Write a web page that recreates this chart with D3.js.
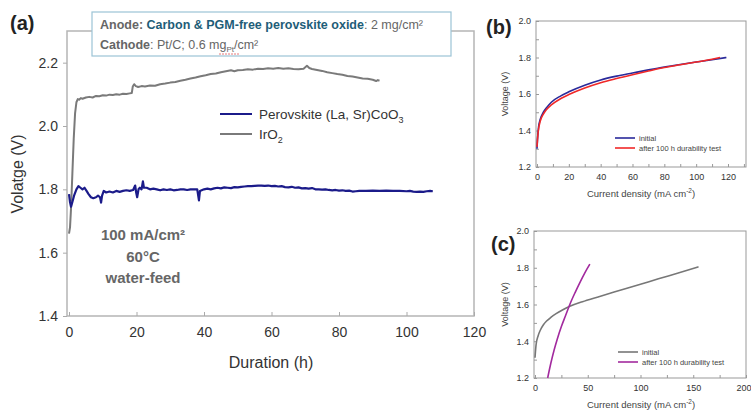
<!DOCTYPE html>
<html>
<head>
<meta charset="utf-8">
<script src="https://cdn.jsdelivr.net/npm/d3@7"></script>
<style>
	body { margin: 0; background: #fff; }
	svg { display: block; font-family: "Liberation Sans", Arial, sans-serif; }
	.tick text { fill: #333; }
</style>
</head>
<body>
<div id="chart"></div>
<script>
// (a) durability at 100 mA/cm2, [hours, volts]
const perovskiteSeries = [
	[0,1.785],[0.3,1.76],[0.6,1.745],[1,1.76],[1.5,1.78],[2.2,1.8],[2.8,1.81],[3.4,1.805],[4,1.8],[4.6,1.805],
	[5.2,1.795],[5.8,1.785],[6.5,1.775],[7.2,1.772],[8,1.775],[8.6,1.78],[9.2,1.775],[9.5,1.758],[9.8,1.78],[10.3,1.795],
	[11,1.79],[12,1.793],[13,1.79],[14,1.795],[15,1.792],[16,1.795],[17,1.797],[18,1.795],[19,1.798],[19.6,1.812],
	[19.9,1.79],[20.2,1.775],[20.6,1.8],[21,1.805],[21.5,1.8],[21.9,1.825],[22.2,1.805],[23,1.805],[24,1.8],[25,1.802],
	[26,1.8],[27,1.797],[28,1.8],[29,1.798],[30,1.8],[31,1.797],[32,1.798],[33,1.8],[34,1.8],[35,1.798],
	[36,1.8],[37,1.8],[38,1.8],[38.5,1.765],[38.8,1.795],[40,1.8],[41,1.802],[42,1.8],[43,1.803],[44,1.805],
	[45,1.803],[46,1.806],[47,1.805],[48,1.804],[49,1.807],[50,1.806],[51,1.808],[52,1.809],[53,1.81],[54,1.81],
	[55,1.811],[56,1.812],[57,1.812],[58,1.811],[59,1.812],[60,1.81],[61,1.811],[62,1.809],[63,1.81],[64,1.807],
	[65,1.806],[66,1.808],[67,1.805],[68,1.806],[69,1.803],[70,1.804],[71,1.802],[72,1.804],[73,1.8],[74,1.8],
	[75,1.799],[76,1.8],[77,1.798],[78,1.797],[79,1.798],[80,1.796],[81,1.797],[82,1.795],[83,1.796],[84,1.793],
	[85,1.794],[86,1.795],[88,1.795],[90,1.796],[92,1.795],[94,1.796],[96,1.795],[98,1.795],[100,1.794],[101,1.795],
	[102,1.793],[103,1.792],[104,1.793],[105,1.792],[106,1.794],[107,1.795],[107.8,1.794]
];
const iro2Series = [
	[0,1.66],[0.3,1.68],[0.6,1.74],[1,1.85],[1.4,1.96],[1.8,2.04],[2.2,2.075],[2.6,2.085],[3,2.083],[3.5,2.088],
	[4,2.086],[5,2.09],[6,2.092],[7,2.09],[8,2.095],[9,2.094],[10,2.097],[11,2.096],[12,2.099],[13,2.098],
	[14,2.1],[15,2.099],[16,2.102],[17,2.101],[18,2.103],[18.6,2.104],[18.9,2.125],[19.3,2.132],[19.8,2.126],[20.5,2.123],
	[21.5,2.126],[22.5,2.125],[24,2.128],[25.5,2.127],[27,2.132],[28.5,2.134],[30,2.137],[31.5,2.139],[33,2.143],[34.5,2.146],
	[36,2.15],[37.5,2.153],[39,2.157],[40.5,2.16],[42,2.164],[43.5,2.166],[45,2.17],[46.5,2.173],[48,2.176],[49,2.173],
	[50,2.176],[51.5,2.177],[53,2.179],[54.5,2.178],[56,2.181],[57.5,2.18],[59,2.182],[60.5,2.181],[62,2.183],[63.5,2.181],
	[65,2.182],[66.5,2.18],[68,2.179],[69.5,2.181],[70.5,2.19],[71.2,2.183],[72,2.18],[73.5,2.177],[75,2.174],[76.5,2.17],
	[78,2.167],[79.5,2.164],[81,2.162],[82.5,2.158],[84,2.156],[85.5,2.153],[87,2.15],[88.5,2.149],[90,2.146],[91,2.142],
	[91.5,2.145],[92,2.143]
];
const durationTicks = [0, 20, 40, 60, 80, 100, 120];
const voltTicksA = [1.4, 1.6, 1.8, 2.0, 2.2];

// (b) polarisation, perovskite [mA/cm2, volts]
const bInitial = [
	[0,1.3],[0.3,1.35],[1,1.42],[2,1.46],[4,1.5],[6,1.525],[9,1.555],[15,1.59],[20,1.612],[30,1.648],
	[40,1.677],[50,1.698],[60,1.715],[70,1.732],[80,1.748],[90,1.762],[100,1.775],[110,1.788],[119,1.8]
];
const bAfter = [
	[0,1.31],[0.3,1.35],[1,1.41],[2,1.45],[4,1.49],[6,1.515],[9,1.54],[15,1.575],[20,1.597],[30,1.633],
	[40,1.662],[50,1.685],[60,1.706],[70,1.726],[80,1.745],[90,1.76],[100,1.775],[110,1.79],[115,1.8]
];
const currentTicksB = [0, 20, 40, 60, 80, 100, 120];

// (c) polarisation, IrO2
const cInitial = [
	[0,1.31],[1,1.38],[3,1.43],[5,1.46],[8,1.49],[11,1.51],[15,1.53],[20,1.55],[26,1.57],[33,1.59],
	[45,1.615],[59,1.64],[75,1.668],[100,1.71],[117,1.74],[135,1.77],[155,1.805]
];
const cAfter = [
	[12,1.2],[15,1.28],[18,1.35],[21,1.41],[25,1.48],[29,1.54],[33,1.6],[38,1.665],[43,1.725],[47,1.77],[52,1.82]
];
const currentTicksC = [0, 50, 100, 150, 200];

const width = 751;
const height = 416;

const $svg = d3.select('#chart').append('svg')
	.attr('width', width)
	.attr('height', height);

function addPath($g, data, x, y, color, w, curve) {
	$g.append('path')
		.datum(data)
		.attr('fill', 'none')
		.attr('stroke', color)
		.attr('stroke-width', w)
		.attr('stroke-linejoin', 'round')
		.attr('d', d3.line().x(d => x(d[0])).y(d => y(d[1])).curve(curve || d3.curveLinear));
}

function frame($g, x0, y0, x1, y1, color, w) {
	$g.append('rect')
		.attr('x', x0).attr('y', y0)
		.attr('width', x1 - x0).attr('height', y1 - y0)
		.attr('fill', 'none')
		.attr('stroke', color)
		.attr('stroke-width', w);
}

// ---------- panel (a)
const ax = d3.scaleLinear().domain([0, 120]).range([69, 474]);
const ay = d3.scaleLinear().domain([1.4, 2.3]).range([316, 31]);
const $a = $svg.append('g');

frame($a, 67, 31, 474, 316, '#b5b5b5', 1.5);

$a.append('g')
	.attr('transform', 'translate(67,0)')
	.call(d3.axisLeft(ay).tickValues(voltTicksA).tickSize(4).tickFormat(d3.format('.1f')))
	.call(g => g.select('.domain').remove())
	.call(g => g.selectAll('line').attr('stroke', '#aaa'))
	.call(g => g.selectAll('text').attr('font-size', 14).attr('x', -9));

$a.append('g')
	.attr('transform', 'translate(0,316)')
	.call(d3.axisBottom(ax).tickValues(durationTicks).tickSize(-4))
	.call(g => g.select('.domain').remove())
	.call(g => g.selectAll('line').attr('stroke', '#aaa'))
	.call(g => g.selectAll('text').attr('font-size', 14).attr('y', 11));

addPath($a, iro2Series, ax, ay, '#7a7a7a', 2);
addPath($a, perovskiteSeries, ax, ay, '#1b1b8a', 2.2);

$a.append('text')
	.attr('transform', 'translate(23,174) rotate(-90)')
	.attr('text-anchor', 'middle')
	.attr('font-size', 16)
	.attr('fill', '#333')
	.text('Volatge (V)');

$a.append('text')
	.attr('x', 271).attr('y', 368)
	.attr('text-anchor', 'middle')
	.attr('font-size', 16)
	.attr('fill', '#333')
	.text('Duration (h)');

// legend (a)
const legendA = [
	{ label: 'Perovskite (La, Sr)CoO', sub: '3', color: '#1b1b8a', y: 114 },
	{ label: 'IrO', sub: '2', color: '#7a7a7a', y: 134 }
];
legendA.forEach(d => {
	$a.append('line')
		.attr('x1', 220).attr('x2', 252)
		.attr('y1', d.y).attr('y2', d.y)
		.attr('stroke', d.color).attr('stroke-width', 2);
	const t = $a.append('text')
		.attr('x', 259).attr('y', d.y + 5)
		.attr('font-size', 13.5)
		.attr('fill', '#333')
		.text(d.label);
	t.append('tspan').attr('font-size', 9).attr('dy', 4).text(d.sub);
});

// conditions
const conditions = ['100 mA/cm²', '60°C', 'water-feed'];
$a.selectAll('text.cond')
	.data(conditions)
	.enter().append('text')
	.attr('class', 'cond')
	.attr('x', 143)
	.attr('y', (d, i) => 240 + i * 21.5)
	.attr('text-anchor', 'middle')
	.attr('font-size', 15)
	.attr('font-weight', 'bold')
	.attr('fill', '#666')
	.text(d => d);

// info box
$a.append('rect')
	.attr('x', 92).attr('y', 12)
	.attr('width', 359).attr('height', 44)
	.attr('fill', '#fff')
	.attr('stroke', '#9cc4d6')
	.attr('stroke-width', 1.2);

const anode = $a.append('text')
	.attr('x', 100).attr('y', 29)
	.attr('font-size', 12.5)
	.attr('fill', '#666');
anode.append('tspan').attr('font-weight', 'bold').text('Anode: ');
anode.append('tspan').attr('font-weight', 'bold').attr('fill', '#1e5d78').text('Carbon & PGM-free perovskite oxide');
anode.append('tspan').text(': 2 mg/cm²');

const cathode = $a.append('text')
	.attr('x', 100).attr('y', 49)
	.attr('font-size', 12.5)
	.attr('fill', '#666');
cathode.append('tspan').attr('font-weight', 'bold').text('Cathode');
cathode.append('tspan').text(': Pt/C; 0.6 mg');
cathode.append('tspan').attr('font-size', 8).attr('dy', 3).text('Pt');
cathode.append('tspan').attr('dy', -3).text('/cm²');

$a.append('line')
	.attr('x1', 219).attr('x2', 240)
	.attr('y1', 54).attr('y2', 54)
	.attr('stroke', '#e05555').attr('stroke-width', 0.8)
	.attr('stroke-dasharray', '2,1');

// ---------- small panels
function smallPanel(opts) {
	const $g = $svg.append('g');
	const x = d3.scaleLinear().domain(opts.xDomain).range([opts.x0, opts.x1]);
	const y = d3.scaleLinear().domain([1.2, 2.0]).range([opts.y1, opts.y0]);

	frame($g, opts.x0 - 1, opts.y0, 746, opts.y1, '#999', 1);

	$g.append('g')
		.attr('transform', `translate(${opts.x0 - 1},0)`)
		.call(d3.axisLeft(y).tickValues(d3.range(1.2, 2.001, 0.1)).tickSize(-3).tickFormat(d => {
			const v = Math.round(d * 10);
			return v % 2 === 0 ? d3.format('.1f')(d) : '';
		}))
		.call(g => g.select('.domain').remove())
		.call(g => g.selectAll('line').attr('stroke', '#999'))
		.call(g => g.selectAll('text').attr('font-size', 9).attr('fill', '#444').attr('x', -5));

	$g.append('g')
		.attr('transform', `translate(0,${opts.y1})`)
		.call(d3.axisBottom(x).tickValues(opts.minorX).tickSize(-3).tickFormat(d => opts.xTicks.includes(d) ? d : ''))
		.call(g => g.select('.domain').remove())
		.call(g => g.selectAll('line').attr('stroke', '#999'))
		.call(g => g.selectAll('text').attr('font-size', 9).attr('fill', '#444').attr('y', 7))
		// last label sits on the page edge; keep it inside
		.call(g => g.selectAll('text').filter(d => d === opts.xDomain[1]).attr('text-anchor', 'end').attr('dx', 5));

	$g.append('text')
		.attr('transform', `translate(508,${(opts.y0 + opts.y1) / 2}) rotate(-90)`)
		.attr('text-anchor', 'middle')
		.attr('font-size', 9)
		.attr('fill', '#444')
		.text('Voltage (V)');

	const xl = $g.append('text')
		.attr('x', 641).attr('y', opts.y1 + 30)
		.attr('text-anchor', 'middle')
		.attr('font-size', 9.5)
		.attr('fill', '#444')
		.text('Current density (mA cm');
	xl.append('tspan').attr('font-size', 6.5).attr('dy', -4).text('-2');
	xl.append('tspan').attr('dy', 4).text(')');

	opts.series.forEach(s => addPath($g, s.data, x, y, s.color, 1.6, d3.curveMonotoneX));

	opts.series.forEach((s, i) => {
		const ly = opts.legendY + i * 10;
		$g.append('line')
			.attr('x1', opts.legendX).attr('x2', opts.legendX + 20)
			.attr('y1', ly).attr('y2', ly)
			.attr('stroke', s.color).attr('stroke-width', 1.6);
		$g.append('text')
			.attr('x', opts.legendX + 24).attr('y', ly + 3)
			.attr('font-size', 7.5)
			.attr('fill', '#444')
			.text(s.label);
	});

	$g.append('text')
		.attr('x', opts.labelX).attr('y', opts.labelY)
		.attr('font-size', 20)
		.attr('font-weight', 'bold')
		.attr('fill', '#222')
		.text(opts.label);
}

smallPanel({
	label: '(b)', labelX: 486, labelY: 34,
	xDomain: [0, 131], x0: 537, x1: 745.5, y0: 21, y1: 167,
	xTicks: currentTicksB, minorX: d3.range(0, 131, 10),
	legendX: 615, legendY: 138,
	series: [
		{ data: bInitial, color: '#2a2a9a', label: 'initial' },
		{ data: bAfter, color: '#f02828', label: 'after 100 h durability test' }
	]
});

smallPanel({
	label: '(c)', labelX: 491, labelY: 251,
	xDomain: [0, 200], x0: 535, x1: 746, y0: 231, y1: 378,
	xTicks: currentTicksC, minorX: d3.range(0, 201, 25),
	legendX: 618, legendY: 352,
	series: [
		{ data: cInitial, color: '#777', label: 'initial' },
		{ data: cAfter, color: '#a22a9e', label: 'after 100 h durability test' }
	]
});

$svg.append('text')
	.attr('x', 10).attr('y', 30)
	.attr('font-size', 20)
	.attr('font-weight', 'bold')
	.attr('fill', '#222')
	.text('(a)');
</script>
</body>
</html>
